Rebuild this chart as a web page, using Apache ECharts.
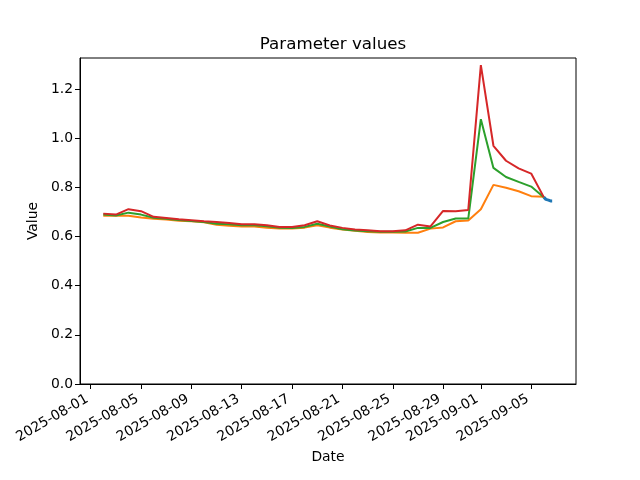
<!DOCTYPE html>
<html>
<head>
<meta charset="utf-8">
<script src="https://cdn.jsdelivr.net/npm/echarts@6/dist/echarts.min.js"></script>
<style>
html,body{margin:0;padding:0;background:#fff;}
#chart{width:640px;height:480px;}
</style>
</head>
<body>
<div id="chart"></div>
<script>
const dates = ['2025-08-02','2025-08-03','2025-08-04','2025-08-05','2025-08-06','2025-08-07','2025-08-08','2025-08-09','2025-08-10','2025-08-11','2025-08-12','2025-08-13','2025-08-14','2025-08-15','2025-08-16','2025-08-17','2025-08-18','2025-08-19','2025-08-20','2025-08-21','2025-08-22','2025-08-23','2025-08-24','2025-08-25','2025-08-26','2025-08-27','2025-08-28','2025-08-29','2025-08-30','2025-08-31','2025-09-01','2025-09-02','2025-09-03','2025-09-04','2025-09-05','2025-09-06'];
const orangeValues = [0.684,0.684,0.684,0.677,0.672,0.669,0.664,0.662,0.658,0.648,0.644,0.641,0.641,0.636,0.632,0.632,0.636,0.646,0.636,0.628,0.623,0.618,0.616,0.616,0.615,0.615,0.632,0.637,0.662,0.665,0.711,0.810,0.798,0.784,0.764,0.762];
const greenValues = [0.689,0.685,0.697,0.689,0.676,0.672,0.667,0.663,0.659,0.652,0.650,0.646,0.646,0.642,0.636,0.635,0.639,0.652,0.641,0.629,0.624,0.621,0.619,0.619,0.620,0.635,0.635,0.659,0.673,0.673,1.077,0.879,0.842,0.822,0.803,0.760];
const redValues = [0.693,0.689,0.711,0.703,0.680,0.675,0.670,0.666,0.662,0.659,0.655,0.650,0.650,0.646,0.639,0.639,0.646,0.662,0.645,0.635,0.628,0.625,0.621,0.621,0.625,0.648,0.641,0.704,0.703,0.708,1.297,0.969,0.908,0.877,0.856,0.760];
const blueTimes = ['2025-09-06 00:00','2025-09-06 01:00','2025-09-06 02:00','2025-09-06 03:00','2025-09-06 04:00','2025-09-06 05:00','2025-09-06 06:00','2025-09-06 07:00','2025-09-06 08:00','2025-09-06 09:00','2025-09-06 10:00','2025-09-06 11:00','2025-09-06 12:00','2025-09-06 13:00','2025-09-06 14:00','2025-09-06 15:00','2025-09-06 16:00','2025-09-06 17:00'];
const blueValues = [0.760,0.757,0.753,0.755,0.751,0.749,0.750,0.748,0.747,0.748,0.746,0.747,0.745,0.746,0.744,0.745,0.744,0.744];
const xTickLabels = ['2025-08-01','2025-08-05','2025-08-09','2025-08-13','2025-08-17','2025-08-21','2025-08-25','2025-08-29','2025-09-01','2025-09-05'];
const yTicks = [0,0.2,0.4,0.6,0.8,1.0,1.2];

function ts(s){
  const [dp,tp] = s.split(' ');
  const [y,m,d] = dp.split('-').map(Number);
  let h=0, mi=0;
  if (tp) { [h,mi] = tp.split(':').map(Number); }
  return Date.UTC(y,m-1,d,h,mi);
}
const DAY = 86400000;
const base = ts('2025-08-01');
const xMin = base - 0.85*DAY;
const xMax = base + 38.56*DAY;
const font = 'DejaVu Sans';

const chart = echarts.init(document.getElementById('chart'), null, {renderer:'canvas'});
function mk(name, xs, ys, color, w){
  return {
    name, type:'line', showSymbol:false, symbol:'none', animation:false,
    data: xs.map((d,i)=>[ts(d), ys[i]]),
    lineStyle:{color, width:w},
    itemStyle:{color}
  };
}
chart.setOption({
  backgroundColor:'#fff',
  animation:false,
  title:{text:'Parameter values', left:328, textAlign:'center', top:31,
    textStyle:{fontFamily:font, fontSize:16.7, fontWeight:'normal', color:'#000'}},
  grid:{left:80, top:58, width:496, height:326, show:true, borderColor:'#000', borderWidth:1, backgroundColor:'transparent'},
  xAxis:{
    type:'value', min:xMin, max:xMax,
    name:'Date', nameLocation:'middle', nameGap:66,
    nameTextStyle:{fontFamily:font, fontSize:13.9, color:'#000'},
    axisLine:{show:true, lineStyle:{color:'#000', width:1}},
    axisTick:{show:true, length:5, lineStyle:{color:'#000'}, customValues: xTickLabels.map(ts)},
    axisLabel:{rotate:30, margin:12, padding:[0,4,0,0], fontFamily:font, fontSize:13.9, color:'#000',
      customValues: xTickLabels.map(ts),
      formatter:(v)=>new Date(v).toISOString().slice(0,10)},
    splitLine:{show:false}
  },
  yAxis:{
    type:'value', min:0, max:1.326,
    name:'Value', nameLocation:'middle', nameGap:38,
    nameTextStyle:{fontFamily:font, fontSize:13.9, color:'#000'},
    axisLine:{show:true, lineStyle:{color:'#000', width:1}},
    axisTick:{show:true, length:5, lineStyle:{color:'#000'}, customValues: yTicks},
    axisLabel:{margin:7, fontFamily:font, fontSize:13.9, color:'#000',
      customValues: yTicks, formatter:(v)=>v.toFixed(1)},
    splitLine:{show:false}
  },
  series:[
    mk('blue', blueTimes, blueValues, '#1f77b4', 3),
    mk('orange', dates, orangeValues, '#ff7f0e', 2),
    mk('green', dates, greenValues, '#2ca02c', 2),
    mk('red', dates, redValues, '#d62728', 2)
  ]
});
</script>
</body>
</html>
